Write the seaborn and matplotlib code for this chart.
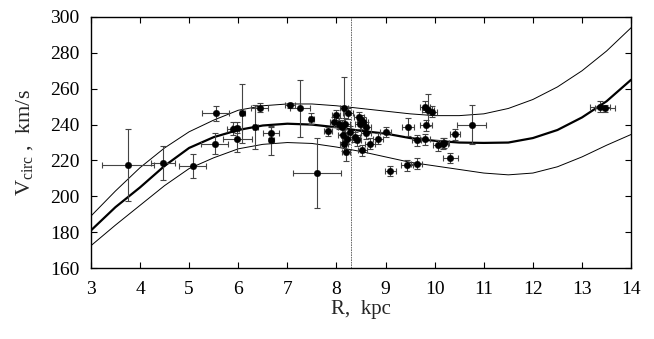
import matplotlib
matplotlib.use("Agg")
import numpy as np
import pandas as pd
import matplotlib.pyplot as plt
import seaborn as sns

# measured circular velocities
r_kpc = [3.76, 4.47, 5.07, 5.54, 5.52, 5.90, 5.97, 5.98, 6.08, 6.35,
         6.44, 6.67, 6.67, 7.05, 7.26, 7.49, 7.61, 7.82, 7.99, 7.95,
         8.05, 8.11, 8.15, 8.17, 8.24, 8.14, 8.21, 8.15, 8.19, 8.27,
         8.38, 8.41, 8.46, 8.51, 8.55, 8.48, 8.61, 8.53, 8.68, 8.61,
         8.85, 9.00, 9.45, 9.63, 9.80, 9.10, 9.43, 9.63, 9.87, 9.82,
         9.80, 10.07, 10.17, 10.20, 10.41, 10.75, 10.32, 13.37, 13.47, 9.94]
v_circ = [217.5, 218.6, 216.8, 246.2, 229.4, 237.8, 238.2, 232.0, 246.2, 238.7,
          249.5, 235.6, 231.3, 250.8, 249.0, 243.4, 213.2, 236.3, 245.3, 241.5,
          240.6, 238.7, 249.5, 240.6, 246.2, 234.1, 232.2, 229.4, 224.7, 236.0,
          233.1, 231.3, 244.3, 242.5, 241.5, 240.6, 238.7, 225.7, 229.4, 235.1,
          232.2, 235.9, 238.7, 231.3, 231.7, 214.1, 217.3, 218.2, 248.0, 239.7,
          250.0, 228.5, 229.4, 229.8, 234.5, 240.0, 221.4, 249.9, 249.0, 247.1]
r_err = [0.53, 0.25, 0.28, 0.28, 0.28, 0.12, 0.10, 0.30, 0.05, 0.05,
         0.17, 0.16, 0.05, 0.10, 0.21, 0.05, 0.49, 0.08, 0.08, 0.08,
         0.10, 0.08, 0.08, 0.10, 0.10, 0.10, 0.10, 0.08, 0.08, 0.10,
         0.10, 0.10, 0.10, 0.10, 0.10, 0.10, 0.10, 0.10, 0.10, 0.10,
         0.10, 0.12, 0.12, 0.10, 0.10, 0.12, 0.12, 0.12, 0.12, 0.12,
         0.10, 0.10, 0.10, 0.10, 0.10, 0.29, 0.15, 0.20, 0.20, 0.10]
v_err = [20, 9.5, 6.7, 4, 6, 3.5, 3, 7, 16.5, 12.5,
         2.5, 3, 8, 1.5, 16, 3, 19.5, 2.5, 3, 3,
         3, 4, 17, 3, 3, 4, 3, 4, 5, 3,
         3, 3, 3, 3, 3, 3, 3, 3, 3, 3,
         3, 3, 5, 3, 3, 3, 3, 3, 9, 3,
         3, 3, 3, 3, 3, 11, 3, 3, 2, 3]

# fitted rotation curve and its confidence band
r_curve = [3.0, 3.5, 4.0, 4.5, 5.0, 5.5, 6.0, 6.5, 7.0, 7.5, 8.0, 8.5,
           9.0, 9.5, 10.0, 10.5, 11.0, 11.5, 12.0, 12.5, 13.0, 13.5, 14.0]
v_model = [181, 194, 205, 217, 227, 233, 237, 239.5, 240.5, 240, 238.5, 236.5,
           235, 232.5, 231, 230, 229.8, 230, 232.5, 237, 244, 253, 265]
v_upper = [189, 203, 216, 227, 236, 242.5, 248, 250.5, 251.5, 251.5, 250.5, 249,
           247.5, 246, 245, 245, 246, 249, 254, 261, 270, 281, 294]
v_lower = [172.5, 184, 195, 206, 215.5, 221.5, 226.5, 229, 230, 229.5, 227.5, 225,
           222, 219, 217, 215, 213, 212, 213, 216.5, 222, 228.5, 234.5]
r_sun = 8.3

pts = pd.DataFrame({"R": r_kpc, "V": v_circ, "dR": r_err, "dV": v_err})
curves = pd.DataFrame({"R": r_curve, "model": v_model, "upper": v_upper, "lower": v_lower})

sns.set_theme(style="ticks")
plt.rcParams["font.family"] = ["Liberation Serif", "DejaVu Serif"]
plt.rcParams["mathtext.fontset"] = "custom"
plt.rcParams["mathtext.rm"] = "Liberation Serif"

fig = plt.figure(figsize=(6.54, 3.39), dpi=100)
ax = fig.add_axes([0.139, 0.209, 0.826, 0.741])

sns.lineplot(data=curves, x="R", y="model", color="black", lw=1.6, ax=ax)
sns.lineplot(data=curves, x="R", y="upper", color="black", lw=0.7, ax=ax)
sns.lineplot(data=curves, x="R", y="lower", color="black", lw=0.7, ax=ax)

ax.errorbar(pts["R"], pts["V"], xerr=pts["dR"], yerr=pts["dV"], fmt="none",
            ecolor="#444444", elinewidth=0.8, capsize=2, capthick=0.8, zorder=3)
sns.scatterplot(data=pts, x="R", y="V", color="black", s=22, edgecolor="black",
                linewidth=0.3, ax=ax, zorder=4)

ax.axvline(r_sun, color="#555555", lw=0.6, ls=(0, (2, 1)), zorder=1)

ax.set_xlim(3, 14)
ax.set_ylim(160, 300)
ax.set_xticks(range(3, 15))
ax.set_yticks(range(160, 301, 20))
ax.tick_params(direction="in", top=True, right=True, length=4, width=0.8,
               labelsize=14, colors="black")
ax.tick_params(axis="x", pad=9)
ax.tick_params(axis="y", pad=8)
for s in ax.spines.values():
    s.set_linewidth(1.0)
    s.set_color("black")

ax.set_xlabel("R,  kpc", fontsize=15, labelpad=2)
ax.set_ylabel(r"V$_{\rm circ}$ ,  km/s", fontsize=16, labelpad=10)

fig.savefig("out.png", dpi=100)
